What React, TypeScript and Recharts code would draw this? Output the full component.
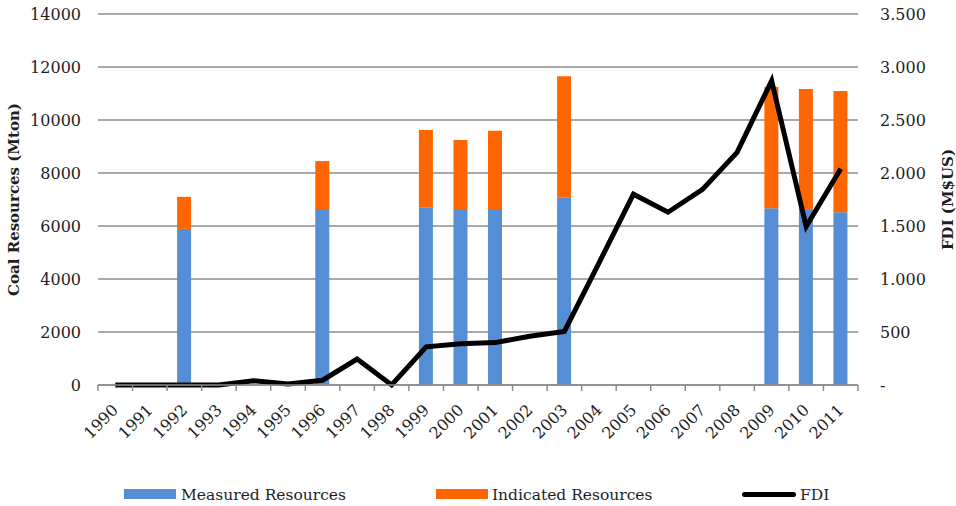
import React from 'react'
import {
  ComposedChart,
  Bar,
  Line,
  XAxis,
  YAxis,
  CartesianGrid,
  Legend
} from 'recharts'

const years = [
  '1990', '1991', '1992', '1993', '1994', '1995', '1996', '1997', '1998', '1999', '2000',
  '2001', '2002', '2003', '2004', '2005', '2006', '2007', '2008', '2009', '2010', '2011'
]
// Mton, only years with a resource estimate
const measured = [
  null, null, 5890, null, null, null, 6640, null, null, 6690, 6640,
  6640, null, 7070, null, null, null, null, null, 6670, 6600, 6520
]
const indicated = [
  null, null, 1210, null, null, null, 1810, null, null, 2930, 2610,
  2950, null, 4580, null, null, null, null, null, 4580, 4570, 4570
]
// M$US
const fdi = [
  0, 0, 0, 0, 40, 10, 45, 245, 0, 360, 390,
  400, 460, 505, 1150, 1800, 1630, 1845, 2195, 2870, 1495, 2040
]
const leftTicks = [0, 2000, 4000, 6000, 8000, 10000, 12000, 14000]
const rightTicks = [0, 500, 1000, 1500, 2000, 2500, 3000, 3500]

const FONT = '"DejaVu Serif", serif'
const GRID = '#8d8d8d'
const BLUE = '#558ed5'
const ORANGE = '#ff6600'
const TEXT = '#1e1e1e'
const PLOT_W = 760
const BAND = PLOT_W / years.length

const data = years.map((year, i) => ({
  year,
  measured: measured[i],
  indicated: indicated[i],
  fdi: fdi[i]
}))

// 3.500 style (dot as thousands separator), dash for zero
const fmtFdi = (v: number) => {
  if (v === 0) return '-'
  if (v < 1000) return String(v)
  return `${Math.floor(v / 1000)}.${String(v % 1000).padStart(3, '0')}`
}

const XTick = (props: any) => {
  const { x, y, payload, index } = props
  const half = BAND / 2
  const ax = x + 4
  const ay = y + 26
  return (
    <g>
      <line x1={x - half} x2={x - half} y1={y} y2={y + 6} stroke={GRID} strokeWidth={1.5} />
      {index === years.length - 1 && (
        <line x1={x + half} x2={x + half} y1={y} y2={y + 6} stroke={GRID} strokeWidth={1.5} />
      )}
      <text
        x={ax}
        y={ay}
        textAnchor="end"
        transform={`rotate(-45, ${ax}, ${ay})`}
        fontFamily={FONT}
        fontSize={16}
        fill={TEXT}
      >
        {payload.value}
      </text>
    </g>
  )
}

const renderLegend = () => (
  <div
    style={{
      position: 'relative',
      width: 956,
      height: 24,
      fontFamily: FONT,
      fontSize: 15.5,
      color: TEXT
    }}
  >
    <span style={{ position: 'absolute', left: 124, top: 7, width: 52, height: 10, background: BLUE }} />
    <span style={{ position: 'absolute', left: 181, top: 3, lineHeight: '20px', whiteSpace: 'nowrap' }}>
      Measured Resources
    </span>
    <span style={{ position: 'absolute', left: 436, top: 7, width: 52, height: 10, background: ORANGE }} />
    <span style={{ position: 'absolute', left: 492, top: 3, lineHeight: '20px', whiteSpace: 'nowrap' }}>
      Indicated Resources
    </span>
    <span
      style={{
        position: 'absolute',
        left: 742,
        top: 10,
        width: 54,
        height: 5,
        borderRadius: 3,
        background: '#000'
      }}
    />
    <span style={{ position: 'absolute', left: 800, top: 3, lineHeight: '20px', whiteSpace: 'nowrap' }}>
      FDI
    </span>
  </div>
)

export default function App() {
  return (
    <div style={{ position: 'absolute', left: 0, top: 0, background: '#fff' }}>
      <ComposedChart
        width={956}
        height={506}
        data={data}
        margin={{ top: 14, right: 0, bottom: 0, left: 0 }}
      >
        <CartesianGrid yAxisId="left" vertical={false} stroke={GRID} strokeWidth={1.5} />
        <XAxis
          dataKey="year"
          height={97}
          interval={0}
          tickLine={false}
          tickSize={0}
          tickMargin={0}
          axisLine={{ stroke: GRID, strokeWidth: 1.5 }}
          tick={<XTick />}
        />
        <YAxis
          yAxisId="left"
          width={98}
          domain={[0, 14000]}
          ticks={leftTicks}
          axisLine={false}
          tickLine={false}
          tickSize={0}
          tickMargin={17}
          tick={{ fontFamily: FONT, fontSize: 16, fill: TEXT }}
          label={{
            value: 'Coal Resources (Mton)',
            angle: -90,
            position: 'insideLeft',
            offset: 14,
            style: { textAnchor: 'middle', fontFamily: FONT, fontSize: 15, fontWeight: 'bold', fill: TEXT }
          }}
        />
        <YAxis
          yAxisId="right"
          orientation="right"
          width={98}
          domain={[0, 3500]}
          ticks={rightTicks}
          axisLine={false}
          tickLine={false}
          tickSize={0}
          tickMargin={22}
          tickFormatter={fmtFdi}
          tick={{ fontFamily: FONT, fontSize: 16, fill: TEXT }}
          label={{
            value: 'FDI (M$US)',
            angle: -90,
            position: 'insideRight',
            offset: 8,
            style: { textAnchor: 'middle', fontFamily: FONT, fontSize: 15, fontWeight: 'bold', fill: TEXT }
          }}
        />
        <Legend verticalAlign="bottom" height={24} content={renderLegend} wrapperStyle={{ left: 0, width: 956 }} />
        <Bar
          yAxisId="left"
          dataKey="measured"
          stackId="coal"
          fill={BLUE}
          barSize={14}
          name="Measured Resources"
          isAnimationActive={false}
        />
        <Bar
          yAxisId="left"
          dataKey="indicated"
          stackId="coal"
          fill={ORANGE}
          barSize={14}
          name="Indicated Resources"
          isAnimationActive={false}
        />
        <Line
          yAxisId="right"
          dataKey="fdi"
          stroke="#000"
          strokeWidth={5}
          dot={false}
          activeDot={false}
          name="FDI"
          isAnimationActive={false}
        />
      </ComposedChart>
    </div>
  )
}
